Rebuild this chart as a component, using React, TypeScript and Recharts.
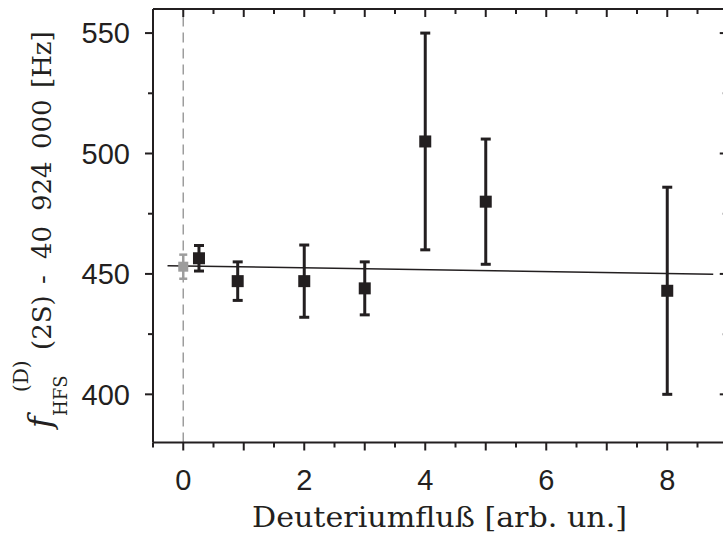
import React from 'react';
import { ComposedChart, Scatter, Line, XAxis, YAxis, ErrorBar, ReferenceLine, Label } from 'recharts';

const ink = '#231f20';
const grey = '#9d9d9d';

// measured points: deuterium flow, f - 40 924 000 Hz, 1 sigma
const flow = [0.26, 0.9, 2, 3, 4, 5, 8];
const freq = [456.5, 447, 447, 444, 505, 480, 443];
const sigma = [5.3, 8, 15, 11, 45, 26, 43];

// extrapolated value at zero flow
const zeroFlow = [0];
const zeroFreq = [453];
const zeroSigma = [5];

// linear fit, drawn between these two flows
const fitFlow = [-0.26, 8.76];
const fitFreq = [453.4, 449.9];

const xTicks = [-0.5, 0, 0.5, 1, 1.5, 2, 2.5, 3, 3.5, 4, 4.5, 5, 5.5, 6, 6.5, 7, 7.5, 8, 8.5, 9];
const xLabelled = [0, 2, 4, 6, 8];
const yTicks = [400, 425, 450, 475, 500, 525, 550];
const yLabelled = [400, 450, 500, 550];

const points = flow.map((x, i) => ({ x, y: freq[i], err: sigma[i] }));
const zeroPoint = zeroFlow.map((x, i) => ({ x, y: zeroFreq[i], err: zeroSigma[i] }));
const fit = fitFlow.map((x, i) => ({ x, y: fitFreq[i] }));

const PLOT_TOP = 9;
const PLOT_H = 433.5;

const tickFont = { fontFamily: 'Liberation Sans, Arial, sans-serif', fontSize: 29, fill: ink };

// bottom axis renderer also puts the inward ticks on the top frame edge
const BottomTick = (props: any) => {
  const { x, y, payload } = props;
  const v = payload.value;
  const len = Number.isInteger(v) ? 8 : 5;
  const top = y - PLOT_H;
  return (
    <g stroke={ink} strokeWidth={2}>
      <line x1={x} y1={y} x2={x} y2={y + len} />
      <line x1={x} y1={top} x2={x} y2={top + len} />
      {xLabelled.includes(v) && (
        <text x={x} y={y + 47.5} textAnchor="middle" stroke="none" {...tickFont}>
          {v}
        </text>
      )}
    </g>
  );
};

const LeftTick = (props: any) => {
  const { x, y, payload } = props;
  const v = payload.value;
  const len = v % 50 === 0 ? 8 : 5;
  return (
    <g stroke={ink} strokeWidth={2}>
      <line x1={x} y1={y} x2={x - len} y2={y} />
      {yLabelled.includes(v) && (
        <text x={x - 23} y={y + 10.4} textAnchor="end" stroke="none" {...tickFont}>
          {v}
        </text>
      )}
    </g>
  );
};

const RightTick = (props: any) => {
  const { x, y, payload } = props;
  const len = payload.value % 50 === 0 ? 8 : 5;
  return <line x1={x} y1={y} x2={x - len} y2={y} stroke={ink} strokeWidth={2} />;
};

const square = (size: number, fill: string) => (props: any) => (
  <rect x={props.cx - size / 2} y={props.cy - size / 2} width={size} height={size} fill={fill} />
);

const YTitle = () => (
  <g transform="translate(51 428) rotate(-90)" fill={ink} fontFamily="DejaVu Serif, serif">
    <text x={0} y={0} fontSize={31} fontStyle="italic">f</text>
    <text x={36} y={-23} fontSize={20}>(D)</text>
    <text x={12} y={16} fontSize={18}>HFS</text>
    <text y={0} fontSize={26}>
      <tspan x={78}>(2S)</tspan>
      <tspan x={144}>-</tspan>
      <tspan x={169}>40</tspan>
      <tspan x={217}>924</tspan>
      <tspan x={279}>000</tspan>
      <tspan x={340}>[Hz]</tspan>
    </text>
  </g>
);

const XTitle = () => (
  <text x={252} y={527} fill={ink} fontFamily="DejaVu Serif, serif" fontSize={27} textLength={375} lengthAdjust="spacingAndGlyphs">
    Deuteriumfluß [arb. un.]
  </text>
);

export default function App() {
  const axisLine = { stroke: ink, strokeWidth: 2 };
  return (
    <div style={{ position: 'absolute', left: 0, top: 0, width: 723, height: 540, overflow: 'hidden', background: '#fff' }}>
      <ComposedChart width={740} height={540} margin={{ top: PLOT_TOP - 1, right: 11.25, bottom: 0, left: 152 }}>
        <XAxis
          dataKey="x"
          type="number"
          domain={[-0.5, 9]}
          allowDataOverflow
          ticks={xTicks}
          interval={0}
          height={540 - PLOT_TOP - PLOT_H}
          tickSize={0}
          tickMargin={0}
          tickLine={false}
          axisLine={axisLine}
          tick={BottomTick}
        >
          <Label content={XTitle} />
        </XAxis>
        <XAxis
          xAxisId="top"
          orientation="top"
          type="number"
          domain={[-0.5, 9]}
          allowDataOverflow
          height={1}
          tickLine={false}
          tick={false}
          axisLine={axisLine}
        />
        <YAxis
          dataKey="y"
          type="number"
          domain={[380, 560]}
          allowDataOverflow
          ticks={yTicks}
          interval={0}
          width={1}
          tickSize={0}
          tickMargin={0}
          tickLine={false}
          axisLine={axisLine}
          tick={LeftTick}
        >
          <Label content={YTitle} />
        </YAxis>
        <YAxis
          yAxisId="right"
          orientation="right"
          type="number"
          domain={[380, 560]}
          allowDataOverflow
          ticks={yTicks}
          interval={0}
          width={1}
          tickSize={0}
          tickMargin={0}
          tickLine={false}
          axisLine={axisLine}
          tick={RightTick}
        />
        <ReferenceLine x={0} stroke={grey} strokeWidth={1.5} strokeDasharray="10 6" />
        <Scatter data={zeroPoint} shape={square(10, grey)} isAnimationActive={false}>
          <ErrorBar dataKey="err" direction="y" width={4} stroke={grey} strokeWidth={2.5} />
        </Scatter>
        <Line data={fit} dataKey="y" stroke={ink} strokeWidth={1.5} dot={false} activeDot={false} isAnimationActive={false} />
        <Scatter data={points} shape={square(12, ink)} isAnimationActive={false}>
          <ErrorBar dataKey="err" direction="y" width={5} stroke={ink} strokeWidth={3} />
        </Scatter>
      </ComposedChart>
    </div>
  );
}
